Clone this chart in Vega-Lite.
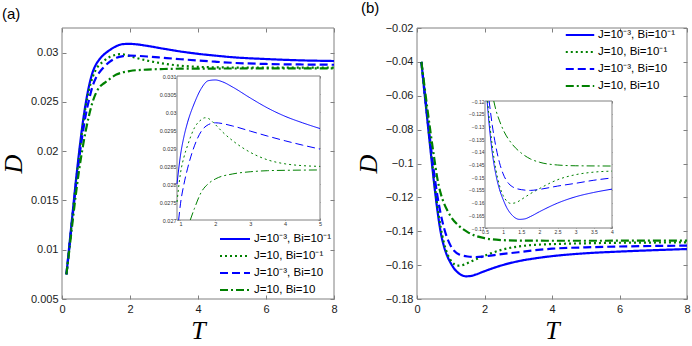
{
  "$schema": "https://vega.github.io/schema/vega-lite/v6.json",
  "padding": {"left": 0, "top": 1, "right": 0, "bottom": 0},
  "background": "white",
  "config": {
    "view": {"stroke": null},
    "font": "Liberation Sans",
    "axis": {"grid": false, "labelFont": "Liberation Sans", "labelFontSize": 11, "labelColor": "#1a1a1a", "tickColor": "#808080", "domain": false, "labelFlush": false, "labelOverlap": false, "zindex": 1, "titleFont": "Liberation Serif", "titleFontStyle": "italic", "titleFontWeight": "normal", "titleFontSize": 26, "titleColor": "#000000", "tickSize": -4, "labelPadding": 8},
    "line": {"interpolate": "monotone"},
    "title": {"font": "Liberation Sans", "fontSize": 15, "fontWeight": "normal", "color": "#000000", "anchor": "start", "frame": "group", "offset": 6}
  },
  "datasets": {
    "aMain": [
      {"s": "J=10⁻³, Bi=10⁻¹", "T": 0.13, "D": 0.0075}, {"s": "J=10⁻³, Bi=10⁻¹", "T": 0.2, "D": 0.0099}, {"s": "J=10⁻³, Bi=10⁻¹", "T": 0.3, "D": 0.0133}, {"s": "J=10⁻³, Bi=10⁻¹", "T": 0.4, "D": 0.0167}, {"s": "J=10⁻³, Bi=10⁻¹", "T": 0.5, "D": 0.0198}, {"s": "J=10⁻³, Bi=10⁻¹", "T": 0.6, "D": 0.0226}, {"s": "J=10⁻³, Bi=10⁻¹", "T": 0.7, "D": 0.0249}, {"s": "J=10⁻³, Bi=10⁻¹", "T": 0.8, "D": 0.0267}, {"s": "J=10⁻³, Bi=10⁻¹", "T": 0.9, "D": 0.028}, {"s": "J=10⁻³, Bi=10⁻¹", "T": 1.0, "D": 0.0288}, {"s": "J=10⁻³, Bi=10⁻¹", "T": 1.1, "D": 0.02932}, {"s": "J=10⁻³, Bi=10⁻¹", "T": 1.2, "D": 0.0297}, {"s": "J=10⁻³, Bi=10⁻¹", "T": 1.4, "D": 0.03025}, {"s": "J=10⁻³, Bi=10⁻¹", "T": 1.6, "D": 0.03066}, {"s": "J=10⁻³, Bi=10⁻¹", "T": 1.8, "D": 0.03087}, {"s": "J=10⁻³, Bi=10⁻¹", "T": 2.0, "D": 0.03089}, {"s": "J=10⁻³, Bi=10⁻¹", "T": 2.2, "D": 0.03084}, {"s": "J=10⁻³, Bi=10⁻¹", "T": 2.5, "D": 0.03069}, {"s": "J=10⁻³, Bi=10⁻¹", "T": 3, "D": 0.03039}, {"s": "J=10⁻³, Bi=10⁻¹", "T": 3.5, "D": 0.03011}, {"s": "J=10⁻³, Bi=10⁻¹", "T": 4, "D": 0.02988}, {"s": "J=10⁻³, Bi=10⁻¹", "T": 4.5, "D": 0.0297}, {"s": "J=10⁻³, Bi=10⁻¹", "T": 5, "D": 0.02954}, {"s": "J=10⁻³, Bi=10⁻¹", "T": 6, "D": 0.02935}, {"s": "J=10⁻³, Bi=10⁻¹", "T": 7, "D": 0.02922}, {"s": "J=10⁻³, Bi=10⁻¹", "T": 8, "D": 0.02915},
      {"s": "J=10, Bi=10⁻¹", "T": 0.13, "D": 0.0075}, {"s": "J=10, Bi=10⁻¹", "T": 0.2, "D": 0.0098}, {"s": "J=10, Bi=10⁻¹", "T": 0.3, "D": 0.0132}, {"s": "J=10, Bi=10⁻¹", "T": 0.4, "D": 0.0165}, {"s": "J=10, Bi=10⁻¹", "T": 0.5, "D": 0.0195}, {"s": "J=10, Bi=10⁻¹", "T": 0.6, "D": 0.0222}, {"s": "J=10, Bi=10⁻¹", "T": 0.7, "D": 0.0246}, {"s": "J=10, Bi=10⁻¹", "T": 0.8, "D": 0.0263}, {"s": "J=10, Bi=10⁻¹", "T": 0.9, "D": 0.0275}, {"s": "J=10, Bi=10⁻¹", "T": 1.0, "D": 0.0283}, {"s": "J=10, Bi=10⁻¹", "T": 1.1, "D": 0.02875}, {"s": "J=10, Bi=10⁻¹", "T": 1.2, "D": 0.02906}, {"s": "J=10, Bi=10⁻¹", "T": 1.4, "D": 0.02956}, {"s": "J=10, Bi=10⁻¹", "T": 1.6, "D": 0.02979}, {"s": "J=10, Bi=10⁻¹", "T": 1.7, "D": 0.02984}, {"s": "J=10, Bi=10⁻¹", "T": 1.8, "D": 0.02982}, {"s": "J=10, Bi=10⁻¹", "T": 2.0, "D": 0.02965}, {"s": "J=10, Bi=10⁻¹", "T": 2.2, "D": 0.02945}, {"s": "J=10, Bi=10⁻¹", "T": 2.5, "D": 0.0292}, {"s": "J=10, Bi=10⁻¹", "T": 3, "D": 0.02888}, {"s": "J=10, Bi=10⁻¹", "T": 3.5, "D": 0.02867}, {"s": "J=10, Bi=10⁻¹", "T": 4, "D": 0.02856}, {"s": "J=10, Bi=10⁻¹", "T": 4.5, "D": 0.02851}, {"s": "J=10, Bi=10⁻¹", "T": 5, "D": 0.02849}, {"s": "J=10, Bi=10⁻¹", "T": 6, "D": 0.02848}, {"s": "J=10, Bi=10⁻¹", "T": 8, "D": 0.02848},
      {"s": "J=10⁻³, Bi=10", "T": 0.13, "D": 0.0075}, {"s": "J=10⁻³, Bi=10", "T": 0.2, "D": 0.0097}, {"s": "J=10⁻³, Bi=10", "T": 0.3, "D": 0.013}, {"s": "J=10⁻³, Bi=10", "T": 0.4, "D": 0.0162}, {"s": "J=10⁻³, Bi=10", "T": 0.5, "D": 0.0191}, {"s": "J=10⁻³, Bi=10", "T": 0.6, "D": 0.0216}, {"s": "J=10⁻³, Bi=10", "T": 0.7, "D": 0.0237}, {"s": "J=10⁻³, Bi=10", "T": 0.8, "D": 0.0253}, {"s": "J=10⁻³, Bi=10", "T": 0.9, "D": 0.0266}, {"s": "J=10⁻³, Bi=10", "T": 1.0, "D": 0.02745}, {"s": "J=10⁻³, Bi=10", "T": 1.1, "D": 0.028}, {"s": "J=10⁻³, Bi=10", "T": 1.2, "D": 0.02842}, {"s": "J=10⁻³, Bi=10", "T": 1.4, "D": 0.02906}, {"s": "J=10⁻³, Bi=10", "T": 1.6, "D": 0.02947}, {"s": "J=10⁻³, Bi=10", "T": 1.8, "D": 0.02965}, {"s": "J=10⁻³, Bi=10", "T": 2.0, "D": 0.0297}, {"s": "J=10⁻³, Bi=10", "T": 2.5, "D": 0.02961}, {"s": "J=10⁻³, Bi=10", "T": 3, "D": 0.02947}, {"s": "J=10⁻³, Bi=10", "T": 3.5, "D": 0.02933}, {"s": "J=10⁻³, Bi=10", "T": 4, "D": 0.0292}, {"s": "J=10⁻³, Bi=10", "T": 4.5, "D": 0.02908}, {"s": "J=10⁻³, Bi=10", "T": 5, "D": 0.02897}, {"s": "J=10⁻³, Bi=10", "T": 6, "D": 0.02885}, {"s": "J=10⁻³, Bi=10", "T": 7, "D": 0.0288}, {"s": "J=10⁻³, Bi=10", "T": 8, "D": 0.02877},
      {"s": "J=10, Bi=10", "T": 0.13, "D": 0.0075}, {"s": "J=10, Bi=10", "T": 0.2, "D": 0.0095}, {"s": "J=10, Bi=10", "T": 0.3, "D": 0.0125}, {"s": "J=10, Bi=10", "T": 0.4, "D": 0.0154}, {"s": "J=10, Bi=10", "T": 0.5, "D": 0.018}, {"s": "J=10, Bi=10", "T": 0.6, "D": 0.0202}, {"s": "J=10, Bi=10", "T": 0.7, "D": 0.0221}, {"s": "J=10, Bi=10", "T": 0.8, "D": 0.0237}, {"s": "J=10, Bi=10", "T": 0.9, "D": 0.025}, {"s": "J=10, Bi=10", "T": 1.0, "D": 0.0259}, {"s": "J=10, Bi=10", "T": 1.1, "D": 0.0265}, {"s": "J=10, Bi=10", "T": 1.2, "D": 0.0268}, {"s": "J=10, Bi=10", "T": 1.3, "D": 0.02705}, {"s": "J=10, Bi=10", "T": 1.4, "D": 0.02732}, {"s": "J=10, Bi=10", "T": 1.6, "D": 0.02778}, {"s": "J=10, Bi=10", "T": 1.8, "D": 0.02801}, {"s": "J=10, Bi=10", "T": 2.0, "D": 0.02814}, {"s": "J=10, Bi=10", "T": 2.5, "D": 0.02828}, {"s": "J=10, Bi=10", "T": 3, "D": 0.02834}, {"s": "J=10, Bi=10", "T": 3.5, "D": 0.02837}, {"s": "J=10, Bi=10", "T": 4, "D": 0.02838}, {"s": "J=10, Bi=10", "T": 5, "D": 0.02839}, {"s": "J=10, Bi=10", "T": 6, "D": 0.0284}, {"s": "J=10, Bi=10", "T": 8, "D": 0.0284}
    ],
    "aInset": [
      {"s": "J=10⁻³, Bi=10⁻¹", "T": 0.9, "D": 0.028}, {"s": "J=10⁻³, Bi=10⁻¹", "T": 1.0, "D": 0.0288}, {"s": "J=10⁻³, Bi=10⁻¹", "T": 1.1, "D": 0.02932}, {"s": "J=10⁻³, Bi=10⁻¹", "T": 1.2, "D": 0.0297}, {"s": "J=10⁻³, Bi=10⁻¹", "T": 1.4, "D": 0.03025}, {"s": "J=10⁻³, Bi=10⁻¹", "T": 1.6, "D": 0.03066}, {"s": "J=10⁻³, Bi=10⁻¹", "T": 1.8, "D": 0.03087}, {"s": "J=10⁻³, Bi=10⁻¹", "T": 2.0, "D": 0.03089}, {"s": "J=10⁻³, Bi=10⁻¹", "T": 2.2, "D": 0.03084}, {"s": "J=10⁻³, Bi=10⁻¹", "T": 2.5, "D": 0.03069}, {"s": "J=10⁻³, Bi=10⁻¹", "T": 3, "D": 0.03039}, {"s": "J=10⁻³, Bi=10⁻¹", "T": 3.5, "D": 0.03011}, {"s": "J=10⁻³, Bi=10⁻¹", "T": 4, "D": 0.02988}, {"s": "J=10⁻³, Bi=10⁻¹", "T": 4.5, "D": 0.0297}, {"s": "J=10⁻³, Bi=10⁻¹", "T": 5, "D": 0.02954},
      {"s": "J=10, Bi=10⁻¹", "T": 0.9, "D": 0.0275}, {"s": "J=10, Bi=10⁻¹", "T": 1.0, "D": 0.0283}, {"s": "J=10, Bi=10⁻¹", "T": 1.1, "D": 0.02875}, {"s": "J=10, Bi=10⁻¹", "T": 1.2, "D": 0.02906}, {"s": "J=10, Bi=10⁻¹", "T": 1.4, "D": 0.02956}, {"s": "J=10, Bi=10⁻¹", "T": 1.6, "D": 0.02979}, {"s": "J=10, Bi=10⁻¹", "T": 1.7, "D": 0.02984}, {"s": "J=10, Bi=10⁻¹", "T": 1.8, "D": 0.02982}, {"s": "J=10, Bi=10⁻¹", "T": 2.0, "D": 0.02965}, {"s": "J=10, Bi=10⁻¹", "T": 2.2, "D": 0.02945}, {"s": "J=10, Bi=10⁻¹", "T": 2.5, "D": 0.0292}, {"s": "J=10, Bi=10⁻¹", "T": 3, "D": 0.02888}, {"s": "J=10, Bi=10⁻¹", "T": 3.5, "D": 0.02867}, {"s": "J=10, Bi=10⁻¹", "T": 4, "D": 0.02856}, {"s": "J=10, Bi=10⁻¹", "T": 4.5, "D": 0.02851}, {"s": "J=10, Bi=10⁻¹", "T": 5, "D": 0.02849},
      {"s": "J=10⁻³, Bi=10", "T": 0.947, "D": 0.027}, {"s": "J=10⁻³, Bi=10", "T": 1.0, "D": 0.02745}, {"s": "J=10⁻³, Bi=10", "T": 1.1, "D": 0.028}, {"s": "J=10⁻³, Bi=10", "T": 1.2, "D": 0.02842}, {"s": "J=10⁻³, Bi=10", "T": 1.4, "D": 0.02906}, {"s": "J=10⁻³, Bi=10", "T": 1.6, "D": 0.02947}, {"s": "J=10⁻³, Bi=10", "T": 1.8, "D": 0.02965}, {"s": "J=10⁻³, Bi=10", "T": 2.0, "D": 0.0297}, {"s": "J=10⁻³, Bi=10", "T": 2.5, "D": 0.02961}, {"s": "J=10⁻³, Bi=10", "T": 3, "D": 0.02947}, {"s": "J=10⁻³, Bi=10", "T": 3.5, "D": 0.02933}, {"s": "J=10⁻³, Bi=10", "T": 4, "D": 0.0292}, {"s": "J=10⁻³, Bi=10", "T": 4.5, "D": 0.02908}, {"s": "J=10⁻³, Bi=10", "T": 5, "D": 0.02897},
      {"s": "J=10, Bi=10", "T": 1.28, "D": 0.027}, {"s": "J=10, Bi=10", "T": 1.4, "D": 0.02732}, {"s": "J=10, Bi=10", "T": 1.6, "D": 0.02778}, {"s": "J=10, Bi=10", "T": 1.8, "D": 0.02801}, {"s": "J=10, Bi=10", "T": 2.0, "D": 0.02814}, {"s": "J=10, Bi=10", "T": 2.5, "D": 0.02828}, {"s": "J=10, Bi=10", "T": 3, "D": 0.02834}, {"s": "J=10, Bi=10", "T": 3.5, "D": 0.02837}, {"s": "J=10, Bi=10", "T": 4, "D": 0.02838}, {"s": "J=10, Bi=10", "T": 5, "D": 0.02839}
    ],
    "bMain": [
      {"s": "J=10⁻³, Bi=10⁻¹", "T": 0.13, "D": -0.04}, {"s": "J=10⁻³, Bi=10⁻¹", "T": 0.2, "D": -0.054}, {"s": "J=10⁻³, Bi=10⁻¹", "T": 0.3, "D": -0.073}, {"s": "J=10⁻³, Bi=10⁻¹", "T": 0.4, "D": -0.092}, {"s": "J=10⁻³, Bi=10⁻¹", "T": 0.5, "D": -0.1105}, {"s": "J=10⁻³, Bi=10⁻¹", "T": 0.6, "D": -0.127}, {"s": "J=10⁻³, Bi=10⁻¹", "T": 0.7, "D": -0.1403}, {"s": "J=10⁻³, Bi=10⁻¹", "T": 0.8, "D": -0.149}, {"s": "J=10⁻³, Bi=10⁻¹", "T": 0.9, "D": -0.1548}, {"s": "J=10⁻³, Bi=10⁻¹", "T": 1.0, "D": -0.1588}, {"s": "J=10⁻³, Bi=10⁻¹", "T": 1.1, "D": -0.162}, {"s": "J=10⁻³, Bi=10⁻¹", "T": 1.25, "D": -0.165}, {"s": "J=10⁻³, Bi=10⁻¹", "T": 1.45, "D": -0.1666}, {"s": "J=10⁻³, Bi=10⁻¹", "T": 1.6, "D": -0.1664}, {"s": "J=10⁻³, Bi=10⁻¹", "T": 1.75, "D": -0.1655}, {"s": "J=10⁻³, Bi=10⁻¹", "T": 2, "D": -0.1636}, {"s": "J=10⁻³, Bi=10⁻¹", "T": 2.5, "D": -0.1602}, {"s": "J=10⁻³, Bi=10⁻¹", "T": 3, "D": -0.1577}, {"s": "J=10⁻³, Bi=10⁻¹", "T": 3.5, "D": -0.156}, {"s": "J=10⁻³, Bi=10⁻¹", "T": 4, "D": -0.1547}, {"s": "J=10⁻³, Bi=10⁻¹", "T": 5, "D": -0.153}, {"s": "J=10⁻³, Bi=10⁻¹", "T": 6, "D": -0.152}, {"s": "J=10⁻³, Bi=10⁻¹", "T": 7, "D": -0.1512}, {"s": "J=10⁻³, Bi=10⁻¹", "T": 8, "D": -0.1505},
      {"s": "J=10, Bi=10⁻¹", "T": 0.13, "D": -0.04}, {"s": "J=10, Bi=10⁻¹", "T": 0.2, "D": -0.0535}, {"s": "J=10, Bi=10⁻¹", "T": 0.3, "D": -0.072}, {"s": "J=10, Bi=10⁻¹", "T": 0.4, "D": -0.0905}, {"s": "J=10, Bi=10⁻¹", "T": 0.5, "D": -0.1085}, {"s": "J=10, Bi=10⁻¹", "T": 0.6, "D": -0.1245}, {"s": "J=10, Bi=10⁻¹", "T": 0.7, "D": -0.1375}, {"s": "J=10, Bi=10⁻¹", "T": 0.8, "D": -0.147}, {"s": "J=10, Bi=10⁻¹", "T": 0.9, "D": -0.1533}, {"s": "J=10, Bi=10⁻¹", "T": 1.0, "D": -0.1572}, {"s": "J=10, Bi=10⁻¹", "T": 1.1, "D": -0.1594}, {"s": "J=10, Bi=10⁻¹", "T": 1.2, "D": -0.1603}, {"s": "J=10, Bi=10⁻¹", "T": 1.3, "D": -0.1602}, {"s": "J=10, Bi=10⁻¹", "T": 1.4, "D": -0.1597}, {"s": "J=10, Bi=10⁻¹", "T": 1.5, "D": -0.1588}, {"s": "J=10, Bi=10⁻¹", "T": 1.75, "D": -0.1565}, {"s": "J=10, Bi=10⁻¹", "T": 2, "D": -0.1545}, {"s": "J=10, Bi=10⁻¹", "T": 2.25, "D": -0.1526}, {"s": "J=10, Bi=10⁻¹", "T": 2.5, "D": -0.151}, {"s": "J=10, Bi=10⁻¹", "T": 3, "D": -0.149}, {"s": "J=10, Bi=10⁻¹", "T": 3.5, "D": -0.148}, {"s": "J=10, Bi=10⁻¹", "T": 4, "D": -0.1476}, {"s": "J=10, Bi=10⁻¹", "T": 5, "D": -0.1471}, {"s": "J=10, Bi=10⁻¹", "T": 6, "D": -0.1468}, {"s": "J=10, Bi=10⁻¹", "T": 8, "D": -0.1466},
      {"s": "J=10⁻³, Bi=10", "T": 0.13, "D": -0.04}, {"s": "J=10⁻³, Bi=10", "T": 0.2, "D": -0.053}, {"s": "J=10⁻³, Bi=10", "T": 0.3, "D": -0.0705}, {"s": "J=10⁻³, Bi=10", "T": 0.4, "D": -0.088}, {"s": "J=10⁻³, Bi=10", "T": 0.5, "D": -0.1045}, {"s": "J=10⁻³, Bi=10", "T": 0.6, "D": -0.1185}, {"s": "J=10⁻³, Bi=10", "T": 0.7, "D": -0.1295}, {"s": "J=10⁻³, Bi=10", "T": 0.8, "D": -0.138}, {"s": "J=10⁻³, Bi=10", "T": 0.9, "D": -0.1443}, {"s": "J=10⁻³, Bi=10", "T": 1.0, "D": -0.1487}, {"s": "J=10⁻³, Bi=10", "T": 1.1, "D": -0.1515}, {"s": "J=10⁻³, Bi=10", "T": 1.25, "D": -0.1537}, {"s": "J=10⁻³, Bi=10", "T": 1.5, "D": -0.1549}, {"s": "J=10⁻³, Bi=10", "T": 1.75, "D": -0.1552}, {"s": "J=10⁻³, Bi=10", "T": 2, "D": -0.1548}, {"s": "J=10⁻³, Bi=10", "T": 2.5, "D": -0.1535}, {"s": "J=10⁻³, Bi=10", "T": 3, "D": -0.1524}, {"s": "J=10⁻³, Bi=10", "T": 3.5, "D": -0.1512}, {"s": "J=10⁻³, Bi=10", "T": 4, "D": -0.1503}, {"s": "J=10⁻³, Bi=10", "T": 5, "D": -0.1495}, {"s": "J=10⁻³, Bi=10", "T": 6, "D": -0.149}, {"s": "J=10⁻³, Bi=10", "T": 7, "D": -0.1487}, {"s": "J=10⁻³, Bi=10", "T": 8, "D": -0.1485},
      {"s": "J=10, Bi=10", "T": 0.13, "D": -0.04}, {"s": "J=10, Bi=10", "T": 0.2, "D": -0.051}, {"s": "J=10, Bi=10", "T": 0.3, "D": -0.0665}, {"s": "J=10, Bi=10", "T": 0.4, "D": -0.0815}, {"s": "J=10, Bi=10", "T": 0.5, "D": -0.0955}, {"s": "J=10, Bi=10", "T": 0.6, "D": -0.1085}, {"s": "J=10, Bi=10", "T": 0.7, "D": -0.1175}, {"s": "J=10, Bi=10", "T": 0.8, "D": -0.1235}, {"s": "J=10, Bi=10", "T": 0.9, "D": -0.1278}, {"s": "J=10, Bi=10", "T": 1.0, "D": -0.1313}, {"s": "J=10, Bi=10", "T": 1.25, "D": -0.137}, {"s": "J=10, Bi=10", "T": 1.5, "D": -0.1405}, {"s": "J=10, Bi=10", "T": 1.75, "D": -0.1428}, {"s": "J=10, Bi=10", "T": 2, "D": -0.1441}, {"s": "J=10, Bi=10", "T": 2.5, "D": -0.1452}, {"s": "J=10, Bi=10", "T": 3, "D": -0.1455}, {"s": "J=10, Bi=10", "T": 4, "D": -0.1456}, {"s": "J=10, Bi=10", "T": 5, "D": -0.1456}, {"s": "J=10, Bi=10", "T": 8, "D": -0.1455}
    ],
    "bInset": [
      {"s": "J=10⁻³, Bi=10⁻¹", "T": 0.558, "D": -0.12}, {"s": "J=10⁻³, Bi=10⁻¹", "T": 0.6, "D": -0.127}, {"s": "J=10⁻³, Bi=10⁻¹", "T": 0.7, "D": -0.1403}, {"s": "J=10⁻³, Bi=10⁻¹", "T": 0.8, "D": -0.149}, {"s": "J=10⁻³, Bi=10⁻¹", "T": 0.9, "D": -0.1548}, {"s": "J=10⁻³, Bi=10⁻¹", "T": 1.0, "D": -0.1588}, {"s": "J=10⁻³, Bi=10⁻¹", "T": 1.1, "D": -0.162}, {"s": "J=10⁻³, Bi=10⁻¹", "T": 1.25, "D": -0.165}, {"s": "J=10⁻³, Bi=10⁻¹", "T": 1.45, "D": -0.1666}, {"s": "J=10⁻³, Bi=10⁻¹", "T": 1.6, "D": -0.1664}, {"s": "J=10⁻³, Bi=10⁻¹", "T": 1.75, "D": -0.1655}, {"s": "J=10⁻³, Bi=10⁻¹", "T": 2, "D": -0.1636}, {"s": "J=10⁻³, Bi=10⁻¹", "T": 2.5, "D": -0.1602}, {"s": "J=10⁻³, Bi=10⁻¹", "T": 3, "D": -0.1577}, {"s": "J=10⁻³, Bi=10⁻¹", "T": 3.5, "D": -0.156}, {"s": "J=10⁻³, Bi=10⁻¹", "T": 4, "D": -0.1547},
      {"s": "J=10, Bi=10⁻¹", "T": 0.572, "D": -0.12}, {"s": "J=10, Bi=10⁻¹", "T": 0.6, "D": -0.1245}, {"s": "J=10, Bi=10⁻¹", "T": 0.7, "D": -0.1375}, {"s": "J=10, Bi=10⁻¹", "T": 0.8, "D": -0.147}, {"s": "J=10, Bi=10⁻¹", "T": 0.9, "D": -0.1533}, {"s": "J=10, Bi=10⁻¹", "T": 1.0, "D": -0.1572}, {"s": "J=10, Bi=10⁻¹", "T": 1.1, "D": -0.1594}, {"s": "J=10, Bi=10⁻¹", "T": 1.2, "D": -0.1603}, {"s": "J=10, Bi=10⁻¹", "T": 1.3, "D": -0.1602}, {"s": "J=10, Bi=10⁻¹", "T": 1.4, "D": -0.1597}, {"s": "J=10, Bi=10⁻¹", "T": 1.5, "D": -0.1588}, {"s": "J=10, Bi=10⁻¹", "T": 1.75, "D": -0.1565}, {"s": "J=10, Bi=10⁻¹", "T": 2, "D": -0.1545}, {"s": "J=10, Bi=10⁻¹", "T": 2.25, "D": -0.1526}, {"s": "J=10, Bi=10⁻¹", "T": 2.5, "D": -0.151}, {"s": "J=10, Bi=10⁻¹", "T": 3, "D": -0.149}, {"s": "J=10, Bi=10⁻¹", "T": 3.5, "D": -0.148}, {"s": "J=10, Bi=10⁻¹", "T": 4, "D": -0.1476},
      {"s": "J=10⁻³, Bi=10", "T": 0.614, "D": -0.12}, {"s": "J=10⁻³, Bi=10", "T": 0.7, "D": -0.1295}, {"s": "J=10⁻³, Bi=10", "T": 0.8, "D": -0.138}, {"s": "J=10⁻³, Bi=10", "T": 0.9, "D": -0.1443}, {"s": "J=10⁻³, Bi=10", "T": 1.0, "D": -0.1487}, {"s": "J=10⁻³, Bi=10", "T": 1.1, "D": -0.1515}, {"s": "J=10⁻³, Bi=10", "T": 1.25, "D": -0.1537}, {"s": "J=10⁻³, Bi=10", "T": 1.5, "D": -0.1549}, {"s": "J=10⁻³, Bi=10", "T": 1.75, "D": -0.1552}, {"s": "J=10⁻³, Bi=10", "T": 2, "D": -0.1548}, {"s": "J=10⁻³, Bi=10", "T": 2.5, "D": -0.1535}, {"s": "J=10⁻³, Bi=10", "T": 3, "D": -0.1524}, {"s": "J=10⁻³, Bi=10", "T": 3.5, "D": -0.1512}, {"s": "J=10⁻³, Bi=10", "T": 4, "D": -0.1503},
      {"s": "J=10, Bi=10", "T": 0.742, "D": -0.12}, {"s": "J=10, Bi=10", "T": 0.8, "D": -0.1235}, {"s": "J=10, Bi=10", "T": 0.9, "D": -0.1278}, {"s": "J=10, Bi=10", "T": 1.0, "D": -0.1313}, {"s": "J=10, Bi=10", "T": 1.25, "D": -0.137}, {"s": "J=10, Bi=10", "T": 1.5, "D": -0.1405}, {"s": "J=10, Bi=10", "T": 1.75, "D": -0.1428}, {"s": "J=10, Bi=10", "T": 2, "D": -0.1441}, {"s": "J=10, Bi=10", "T": 2.5, "D": -0.1452}, {"s": "J=10, Bi=10", "T": 3, "D": -0.1455}, {"s": "J=10, Bi=10", "T": 4, "D": -0.1456}
    ],
    "aFrame": [{"x0": 0, "x1": 8, "y0": 0.005, "y1": 0.0325}],
    "aBox": [{"x0": 0.9, "x1": 5, "y0": 0.027, "y1": 0.031}],
    "bFrame": [{"x0": 0, "x1": 8, "y0": -0.18, "y1": -0.02}],
    "bBox": [{"x0": 0.5, "x1": 4, "y0": -0.17, "y1": -0.12}]
  },
  "spacing": 16,
  "resolve": {"scale": {"color": "independent", "strokeDash": "independent"}, "legend": {"color": "independent", "strokeDash": "independent"}},
  "hconcat": [
    {
      "width": 272, "height": 271,
      "title": {"text": "(a)", "dx": -60},
      "resolve": {"scale": {"x": "independent", "y": "independent"}},
      "layer": [
        {
          "data": {"name": "aFrame"},
          "mark": {"type": "rect", "fillOpacity": 0, "stroke": "#808080", "strokeWidth": 1},
          "encoding": {
            "x": {"field": "x0", "type": "quantitative", "scale": {"domain": [0, 8], "nice": false, "zero": false}, "axis": {"orient": "top", "values": [0, 2, 4, 6, 8], "labels": false, "title": null}},
            "x2": {"field": "x1"},
            "y": {"field": "y0", "type": "quantitative", "scale": {"domain": [0.005, 0.0325], "nice": false, "zero": false}, "axis": {"orient": "right", "values": [0.005, 0.01, 0.015, 0.02, 0.025, 0.03], "labels": false, "title": null}},
            "y2": {"field": "y1"}
          }
        },
        {
          "data": {"name": "aMain"},
          "mark": {"type": "line", "strokeWidth": 2.2},
          "encoding": {
            "x": {"field": "T", "type": "quantitative", "scale": {"domain": [0, 8], "nice": false, "zero": false}, "axis": {"orient": "bottom", "values": [0, 2, 4, 6, 8], "title": "T", "titlePadding": 3}},
            "y": {"field": "D", "type": "quantitative", "scale": {"domain": [0.005, 0.0325], "nice": false, "zero": false}, "axis": {"orient": "left", "values": [0.005, 0.01, 0.015, 0.02, 0.025, 0.03], "format": "~g", "title": "D", "titlePadding": 4}},
            "color": {"field": "s", "type": "nominal", "scale": {"domain": ["J=10⁻³, Bi=10⁻¹", "J=10, Bi=10⁻¹", "J=10⁻³, Bi=10", "J=10, Bi=10"], "range": ["#0000ff", "#008000", "#0000ff", "#008000"]}, "legend": {"orient": "none", "legendX": 167, "legendY": 205, "title": null, "symbolType": "M-3,0L3,0", "symbolSize": 100, "symbolStrokeWidth": 2, "labelFontSize": 11.5, "labelFont": "Liberation Sans", "labelColor": "#000000", "rowPadding": 5, "labelOffset": 13}},
            "strokeDash": {"field": "s", "type": "nominal", "scale": {"domain": ["J=10⁻³, Bi=10⁻¹", "J=10, Bi=10⁻¹", "J=10⁻³, Bi=10", "J=10, Bi=10"], "range": [[1, 0], [2, 3], [8, 4], [8, 3, 2, 3]]}, "legend": {"orient": "none", "legendX": 167, "legendY": 205, "title": null, "symbolType": "M-3,0L3,0", "symbolSize": 100, "symbolStrokeWidth": 2, "labelFontSize": 11.5, "labelFont": "Liberation Sans", "labelColor": "#000000", "rowPadding": 5, "labelOffset": 13}}
          }
        },
        {
          "data": {"name": "aBox"},
          "mark": {"type": "rect", "fill": "#ffffff", "stroke": "#808080", "strokeWidth": 1},
          "encoding": {
            "x": {"field": "x0", "type": "quantitative", "scale": {"domain": [0.9, 5], "range": [115, 258], "nice": false, "zero": false}, "axis": {"orient": "top", "offset": -48, "values": [1, 2, 3, 4, 5], "labels": false, "title": null, "tickSize": -2}},
            "x2": {"field": "x1"},
            "y": {"field": "y0", "type": "quantitative", "scale": {"domain": [0.027, 0.031], "range": [192, 48], "nice": false, "zero": false}, "axis": {"orient": "right", "offset": -14, "values": [0.027, 0.0275, 0.028, 0.0285, 0.029, 0.0295, 0.03, 0.0305, 0.031], "labels": false, "title": null, "tickSize": -2}},
            "y2": {"field": "y1"}
          }
        },
        {
          "data": {"name": "aInset"},
          "mark": {"type": "line", "strokeWidth": 1},
          "encoding": {
            "x": {"field": "T", "type": "quantitative", "scale": {"domain": [0.9, 5], "range": [115, 258], "nice": false, "zero": false}, "axis": {"orient": "bottom", "offset": -79, "values": [1, 2, 3, 4, 5], "title": null, "tickSize": -2, "labelFontSize": 5.5, "labelPadding": 3, "labelColor": "#333333"}},
            "y": {"field": "D", "type": "quantitative", "scale": {"domain": [0.027, 0.031], "range": [192, 48], "nice": false, "zero": false}, "axis": {"orient": "left", "offset": -115, "values": [0.027, 0.0275, 0.028, 0.0285, 0.029, 0.0295, 0.03, 0.0305, 0.031], "format": "~g", "title": null, "tickSize": -2, "labelFontSize": 5.5, "labelPadding": 3, "labelColor": "#333333"}},
            "color": {"field": "s", "type": "nominal", "scale": {"domain": ["J=10⁻³, Bi=10⁻¹", "J=10, Bi=10⁻¹", "J=10⁻³, Bi=10", "J=10, Bi=10"], "range": ["#0000ff", "#008000", "#0000ff", "#008000"]}},
            "strokeDash": {"field": "s", "type": "nominal", "scale": {"domain": ["J=10⁻³, Bi=10⁻¹", "J=10, Bi=10⁻¹", "J=10⁻³, Bi=10", "J=10, Bi=10"], "range": [[1, 0], [1.5, 2], [5, 3], [5, 2, 1.5, 2]]}}
          }
        }
      ]
    },
    {
      "width": 270, "height": 271,
      "title": {"text": "(b)", "dx": -56},
      "resolve": {"scale": {"x": "independent", "y": "independent"}},
      "layer": [
        {
          "data": {"name": "bFrame"},
          "mark": {"type": "rect", "fillOpacity": 0, "stroke": "#808080", "strokeWidth": 1},
          "encoding": {
            "x": {"field": "x0", "type": "quantitative", "scale": {"domain": [0, 8], "nice": false, "zero": false}, "axis": {"orient": "top", "values": [0, 2, 4, 6, 8], "labels": false, "title": null}},
            "x2": {"field": "x1"},
            "y": {"field": "y0", "type": "quantitative", "scale": {"domain": [-0.18, -0.02], "nice": false, "zero": false}, "axis": {"orient": "right", "values": [-0.18, -0.16, -0.14, -0.12, -0.1, -0.08, -0.06, -0.04, -0.02], "labels": false, "title": null}},
            "y2": {"field": "y1"}
          }
        },
        {
          "data": {"name": "bMain"},
          "mark": {"type": "line", "strokeWidth": 2.2},
          "encoding": {
            "x": {"field": "T", "type": "quantitative", "scale": {"domain": [0, 8], "nice": false, "zero": false}, "axis": {"orient": "bottom", "values": [0, 2, 4, 6, 8], "title": "T", "titlePadding": 3}},
            "y": {"field": "D", "type": "quantitative", "scale": {"domain": [-0.18, -0.02], "nice": false, "zero": false}, "axis": {"orient": "left", "values": [-0.18, -0.16, -0.14, -0.12, -0.1, -0.08, -0.06, -0.04, -0.02], "format": "~g", "title": "D", "titlePadding": 4}},
            "color": {"field": "s", "type": "nominal", "scale": {"domain": ["J=10⁻³, Bi=10⁻¹", "J=10, Bi=10⁻¹", "J=10⁻³, Bi=10", "J=10, Bi=10"], "range": ["#0000ff", "#008000", "#0000ff", "#008000"]}, "legend": {"orient": "none", "legendX": 157, "legendY": 1, "title": null, "symbolType": "M-3,0L3,0", "symbolSize": 90, "symbolStrokeWidth": 2, "labelFontSize": 11.5, "labelFont": "Liberation Sans", "labelColor": "#000000", "rowPadding": 5, "labelOffset": 12}},
            "strokeDash": {"field": "s", "type": "nominal", "scale": {"domain": ["J=10⁻³, Bi=10⁻¹", "J=10, Bi=10⁻¹", "J=10⁻³, Bi=10", "J=10, Bi=10"], "range": [[1, 0], [2, 3], [8, 4], [8, 3, 2, 3]]}, "legend": {"orient": "none", "legendX": 157, "legendY": 1, "title": null, "symbolType": "M-3,0L3,0", "symbolSize": 90, "symbolStrokeWidth": 2, "labelFontSize": 11.5, "labelFont": "Liberation Sans", "labelColor": "#000000", "rowPadding": 5, "labelOffset": 12}}
          }
        },
        {
          "data": {"name": "bBox"},
          "mark": {"type": "rect", "fill": "#ffffff", "stroke": "#808080", "strokeWidth": 1},
          "encoding": {
            "x": {"field": "x0", "type": "quantitative", "scale": {"domain": [0.5, 4], "range": [68, 195], "nice": false, "zero": false}, "axis": {"orient": "top", "offset": -73, "values": [0.5, 1, 1.5, 2, 2.5, 3, 3.5, 4], "labels": false, "title": null, "tickSize": -2}},
            "x2": {"field": "x1"},
            "y": {"field": "y0", "type": "quantitative", "scale": {"domain": [-0.17, -0.12], "range": [200, 73], "nice": false, "zero": false}, "axis": {"orient": "right", "offset": -75, "values": [-0.17, -0.165, -0.16, -0.155, -0.15, -0.145, -0.14, -0.135, -0.13, -0.125, -0.12], "labels": false, "title": null, "tickSize": -2}},
            "y2": {"field": "y1"}
          }
        },
        {
          "data": {"name": "bInset"},
          "mark": {"type": "line", "strokeWidth": 1},
          "encoding": {
            "x": {"field": "T", "type": "quantitative", "scale": {"domain": [0.5, 4], "range": [68, 195], "nice": false, "zero": false}, "axis": {"orient": "bottom", "offset": -71, "values": [0.5, 1, 1.5, 2, 2.5, 3, 3.5, 4], "format": "~g", "title": null, "tickSize": -2, "labelFontSize": 5, "labelPadding": 3, "labelColor": "#333333"}},
            "y": {"field": "D", "type": "quantitative", "scale": {"domain": [-0.17, -0.12], "range": [200, 73], "nice": false, "zero": false}, "axis": {"orient": "left", "offset": -68, "values": [-0.17, -0.165, -0.16, -0.155, -0.15, -0.145, -0.14, -0.135, -0.13, -0.125, -0.12], "format": "~g", "title": null, "tickSize": -2, "labelFontSize": 5, "labelPadding": 3, "labelColor": "#333333"}},
            "color": {"field": "s", "type": "nominal", "scale": {"domain": ["J=10⁻³, Bi=10⁻¹", "J=10, Bi=10⁻¹", "J=10⁻³, Bi=10", "J=10, Bi=10"], "range": ["#0000ff", "#008000", "#0000ff", "#008000"]}},
            "strokeDash": {"field": "s", "type": "nominal", "scale": {"domain": ["J=10⁻³, Bi=10⁻¹", "J=10, Bi=10⁻¹", "J=10⁻³, Bi=10", "J=10, Bi=10"], "range": [[1, 0], [1.5, 2], [5, 3], [5, 2, 1.5, 2]]}}
          }
        }
      ]
    }
  ]
}
